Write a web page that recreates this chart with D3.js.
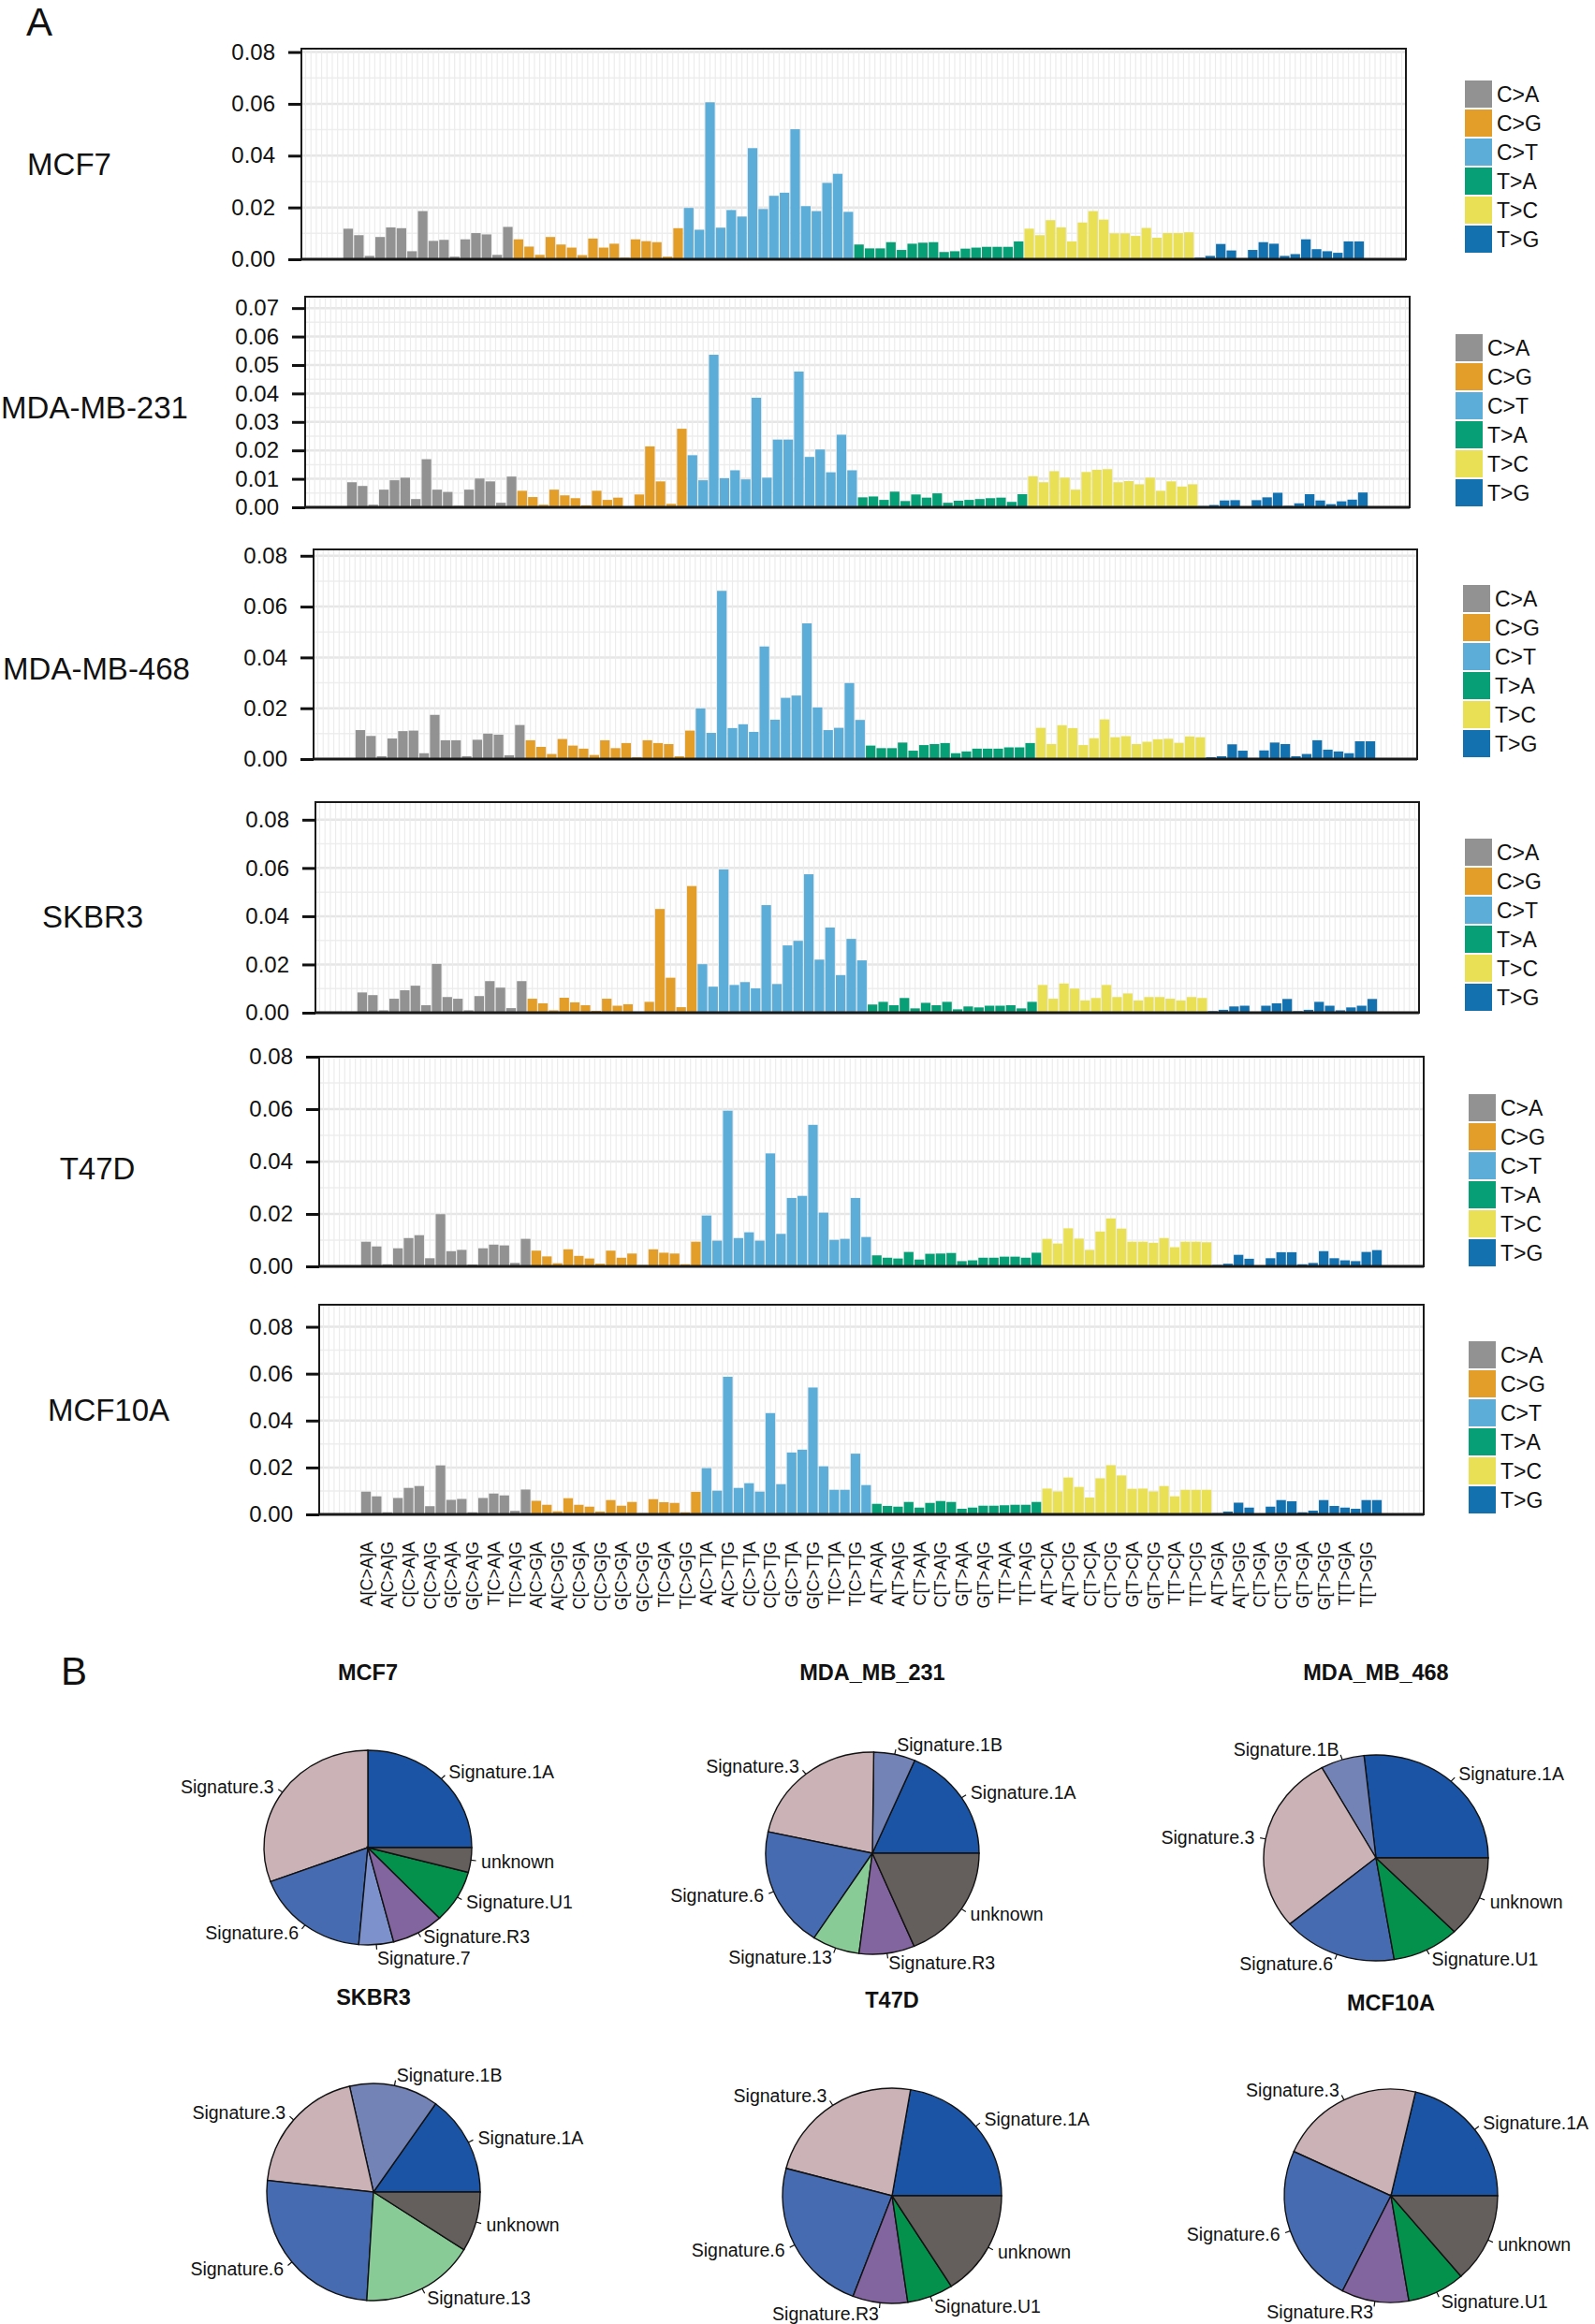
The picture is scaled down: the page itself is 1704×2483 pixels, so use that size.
<!DOCTYPE html>
<html><head><meta charset="utf-8">
<script src="https://cdn.jsdelivr.net/npm/d3@7"></script>
<style>
body{margin:0;background:#fff}
svg{display:block}
text{font-family:"Liberation Sans",Arial,Helvetica,sans-serif;fill:#111}
</style>
</head><body>
<svg id="chart" width="1704" height="2483"></svg>
<script>
// ---------------- DATA ----------------
const categories = [
"A[C>A]A","A[C>A]C","A[C>A]G","A[C>A]T","C[C>A]A","C[C>A]C","C[C>A]G","C[C>A]T","G[C>A]A","G[C>A]C","G[C>A]G","G[C>A]T","T[C>A]A","T[C>A]C","T[C>A]G","T[C>A]T",
"A[C>G]A","A[C>G]C","A[C>G]G","A[C>G]T","C[C>G]A","C[C>G]C","C[C>G]G","C[C>G]T","G[C>G]A","G[C>G]C","G[C>G]G","G[C>G]T","T[C>G]A","T[C>G]C","T[C>G]G","T[C>G]T",
"A[C>T]A","A[C>T]C","A[C>T]G","A[C>T]T","C[C>T]A","C[C>T]C","C[C>T]G","C[C>T]T","G[C>T]A","G[C>T]C","G[C>T]G","G[C>T]T","T[C>T]A","T[C>T]C","T[C>T]G","T[C>T]T",
"A[T>A]A","A[T>A]C","A[T>A]G","A[T>A]T","C[T>A]A","C[T>A]C","C[T>A]G","C[T>A]T","G[T>A]A","G[T>A]C","G[T>A]G","G[T>A]T","T[T>A]A","T[T>A]C","T[T>A]G","T[T>A]T",
"A[T>C]A","A[T>C]C","A[T>C]G","A[T>C]T","C[T>C]A","C[T>C]C","C[T>C]G","C[T>C]T","G[T>C]A","G[T>C]C","G[T>C]G","G[T>C]T","T[T>C]A","T[T>C]C","T[T>C]G","T[T>C]T",
"A[T>G]A","A[T>G]C","A[T>G]G","A[T>G]T","C[T>G]A","C[T>G]C","C[T>G]G","C[T>G]T","G[T>G]A","G[T>G]C","G[T>G]G","G[T>G]T","T[T>G]A","T[T>G]C","T[T>G]G","T[T>G]T"];
const mutationTypes = ["C>A","C>G","C>T","T>A","T>C","T>G"];
const samples = ["MCF7","MDA-MB-231","MDA-MB-468","SKBR3","T47D","MCF10A"];

const valMCF7 = [
0.0118,0.0093,0.0013,0.0086,0.0123,0.0120,0.0031,0.0186,0.0071,0.0075,0.0010,0.0077,0.0101,0.0096,0.0017,0.0125,
0.0077,0.0049,0.0017,0.0086,0.0057,0.0045,0.0016,0.0080,0.0045,0.0060,0.0006,0.0077,0.0070,0.0066,0.0010,0.0120,
0.0198,0.0114,0.0606,0.0122,0.0190,0.0165,0.0429,0.0194,0.0245,0.0257,0.0502,0.0205,0.0186,0.0295,0.0330,0.0183,
0.0057,0.0042,0.0042,0.0066,0.0036,0.0060,0.0064,0.0066,0.0028,0.0031,0.0041,0.0045,0.0048,0.0048,0.0048,0.0069,
0.0118,0.0093,0.0151,0.0123,0.0069,0.0142,0.0186,0.0153,0.0100,0.0100,0.0090,0.0121,0.0083,0.0101,0.0101,0.0104,
0.0006,0.0013,0.0059,0.0034,0.0004,0.0036,0.0066,0.0060,0.0013,0.0020,0.0077,0.0039,0.0031,0.0025,0.0069,0.0069];
const valMDA231 = [
0.0088,0.0075,0.0009,0.0062,0.0095,0.0104,0.0029,0.0169,0.0062,0.0054,0.0005,0.0062,0.0101,0.0091,0.0016,0.0108,
0.0058,0.0036,0.0009,0.0062,0.0042,0.0032,0.0007,0.0058,0.0026,0.0034,0.0002,0.0045,0.0214,0.0091,0.0012,0.0276,
0.0183,0.0095,0.0536,0.0102,0.0130,0.0098,0.0385,0.0104,0.0238,0.0238,0.0477,0.0177,0.0203,0.0123,0.0255,0.0130,
0.0035,0.0038,0.0026,0.0055,0.0022,0.0045,0.0034,0.0049,0.0016,0.0023,0.0026,0.0029,0.0032,0.0034,0.0019,0.0046,
0.0109,0.0088,0.0127,0.0104,0.0062,0.0124,0.0132,0.0134,0.0088,0.0092,0.0081,0.0104,0.0058,0.0091,0.0073,0.0081,
0.0004,0.0008,0.0024,0.0025,0.0001,0.0025,0.0035,0.0051,0.0005,0.0014,0.0046,0.0024,0.0011,0.0021,0.0027,0.0052];
const valMDA468 = [
0.0114,0.0091,0.0011,0.0081,0.0110,0.0112,0.0023,0.0174,0.0074,0.0074,0.0011,0.0076,0.0100,0.0096,0.0015,0.0134,
0.0074,0.0048,0.0020,0.0079,0.0053,0.0041,0.0016,0.0074,0.0043,0.0063,0.0007,0.0074,0.0063,0.0059,0.0011,0.0112,
0.0199,0.0103,0.0662,0.0122,0.0137,0.0107,0.0443,0.0155,0.0241,0.0250,0.0534,0.0203,0.0114,0.0123,0.0299,0.0154,
0.0053,0.0043,0.0043,0.0065,0.0033,0.0055,0.0059,0.0063,0.0023,0.0030,0.0041,0.0041,0.0041,0.0046,0.0046,0.0063,
0.0123,0.0059,0.0133,0.0122,0.0055,0.0082,0.0156,0.0086,0.0090,0.0059,0.0068,0.0078,0.0080,0.0064,0.0089,0.0086,
0.0007,0.0011,0.0058,0.0033,0.0004,0.0034,0.0065,0.0059,0.0011,0.0020,0.0074,0.0037,0.0030,0.0023,0.0070,0.0070];
const valSKBR3 = [
0.0084,0.0073,0.0010,0.0058,0.0093,0.0112,0.0031,0.0202,0.0065,0.0058,0.0010,0.0069,0.0131,0.0104,0.0019,0.0131,
0.0058,0.0039,0.0010,0.0062,0.0043,0.0031,0.0008,0.0058,0.0029,0.0035,0.0003,0.0045,0.0430,0.0145,0.0023,0.0525,
0.0201,0.0108,0.0594,0.0115,0.0127,0.0101,0.0446,0.0119,0.0279,0.0298,0.0574,0.0220,0.0353,0.0156,0.0306,0.0217,
0.0034,0.0045,0.0031,0.0061,0.0018,0.0041,0.0031,0.0045,0.0014,0.0026,0.0022,0.0029,0.0029,0.0031,0.0018,0.0045,
0.0115,0.0058,0.0121,0.0100,0.0051,0.0061,0.0115,0.0065,0.0080,0.0051,0.0065,0.0065,0.0058,0.0051,0.0065,0.0061,
0.0006,0.0012,0.0026,0.0029,0.0001,0.0029,0.0039,0.0057,0.0006,0.0012,0.0045,0.0029,0.0010,0.0022,0.0029,0.0057];
const valT47D = [
0.0094,0.0076,0.0008,0.0069,0.0108,0.0119,0.0031,0.0199,0.0058,0.0063,0.0007,0.0069,0.0083,0.0080,0.0013,0.0105,
0.0060,0.0038,0.0012,0.0065,0.0040,0.0030,0.0010,0.0060,0.0033,0.0049,0.0005,0.0065,0.0052,0.0049,0.0008,0.0094,
0.0194,0.0098,0.0594,0.0108,0.0130,0.0098,0.0431,0.0124,0.0261,0.0269,0.0540,0.0205,0.0101,0.0105,0.0261,0.0112,
0.0042,0.0033,0.0030,0.0055,0.0026,0.0048,0.0049,0.0051,0.0020,0.0023,0.0033,0.0033,0.0037,0.0037,0.0033,0.0052,
0.0105,0.0087,0.0145,0.0106,0.0063,0.0133,0.0183,0.0144,0.0094,0.0094,0.0090,0.0108,0.0073,0.0094,0.0094,0.0092,
0.0005,0.0010,0.0044,0.0029,0.0002,0.0031,0.0054,0.0054,0.0008,0.0013,0.0058,0.0031,0.0023,0.0020,0.0055,0.0062];
const valMCF10A = [
0.0097,0.0077,0.0009,0.0070,0.0113,0.0121,0.0035,0.0209,0.0062,0.0066,0.0009,0.0070,0.0089,0.0081,0.0015,0.0106,
0.0058,0.0041,0.0013,0.0069,0.0041,0.0033,0.0012,0.0061,0.0037,0.0053,0.0005,0.0065,0.0052,0.0049,0.0009,0.0096,
0.0197,0.0101,0.0587,0.0113,0.0133,0.0097,0.0432,0.0129,0.0264,0.0276,0.0541,0.0205,0.0105,0.0105,0.0259,0.0125,
0.0045,0.0036,0.0033,0.0053,0.0029,0.0049,0.0057,0.0053,0.0024,0.0029,0.0037,0.0037,0.0039,0.0041,0.0041,0.0053,
0.0110,0.0098,0.0157,0.0117,0.0072,0.0154,0.0210,0.0166,0.0109,0.0110,0.0098,0.0121,0.0077,0.0105,0.0105,0.0105,
0.0005,0.0012,0.0050,0.0029,0.0003,0.0033,0.0061,0.0056,0.0009,0.0016,0.0061,0.0036,0.0029,0.0024,0.0061,0.0061];

const yMaxes = [0.0813, 0.0740, 0.0825, 0.0873, 0.0800, 0.0894];
const yTicks8 = [0, 0.02, 0.04, 0.06, 0.08];
const yTicks7 = [0, 0.01, 0.02, 0.03, 0.04, 0.05, 0.06, 0.07];

// pie data (percent, counterclockwise from 3 o'clock)
const pieTitles = ["MCF7","MDA_MB_231","MDA_MB_468","SKBR3","T47D","MCF10A"];
const pieMCF7Sigs   = ["Signature.1A","Signature.3","Signature.6","Signature.7","Signature.R3","Signature.U1","unknown"];
const pieMCF7Vals   = [25.0, 30.7, 17.9, 5.4, 8.1, 8.8, 4.1];
const pieMDA231Sigs = ["Signature.1A","Signature.1B","Signature.3","Signature.6","Signature.13","Signature.R3","unknown"];
const pieMDA231Vals = [18.5, 6.3, 21.8, 19.2, 7.2, 8.4, 18.6];
const pieMDA468Sigs = ["Signature.1A","Signature.1B","Signature.3","Signature.6","Signature.U1","unknown"];
const pieMDA468Vals = [26.7, 6.3, 28.1, 16.5, 9.7, 12.7];
const pieSKBR3Sigs  = ["Signature.1A","Signature.1B","Signature.3","Signature.6","Signature.13","unknown"];
const pieSKBR3Vals  = [15.1, 13.5, 19.7, 25.7, 17.1, 8.9];
const pieT47DSigs   = ["Signature.1A","Signature.3","Signature.6","Signature.R3","Signature.U1","unknown"];
const pieT47DVals   = [22.3, 23.6, 23.3, 8.1, 6.8, 15.9];
const pieMCF10ASigs = ["Signature.1A","Signature.3","Signature.6","Signature.R3","Signature.U1","unknown"];
const pieMCF10AVals = [21.3, 21.9, 24.3, 10.2, 8.7, 13.6];

// ---------------- STYLE / LAYOUT ----------------
const mutColors = ["#929292","#e39e2a","#5cadd8","#07a076","#e9e055","#1371b0"];
const sigColors = {
  "Signature.1A":"#1b54a4","Signature.1B":"#7483b6","Signature.3":"#cab2b6","Signature.6":"#466bb0",
  "Signature.7":"#7d92cd","Signature.13":"#88cb97","Signature.R3":"#82649e","Signature.U1":"#03914b","unknown":"#645e5d"
};
const panelVals = [valMCF7, valMDA231, valMDA468, valSKBR3, valT47D, valMCF10A];
const panelTicks = [yTicks8, yTicks7, yTicks8, yTicks8, yTicks8, yTicks8];
const panelLayout = [
  {l:322, r:1502, t:52,   b:277,  lx:74,  ly:175,  gx:1565, gy:86},
  {l:326, r:1506, t:317,  b:542,  lx:101, ly:435,  gx:1555, gy:357},
  {l:335, r:1514, t:587,  b:811,  lx:103, ly:714,  gx:1563, gy:625},
  {l:337, r:1516, t:857,  b:1082, lx:99,  ly:979,  gx:1565, gy:896},
  {l:341, r:1521, t:1129, b:1353, lx:104, ly:1248, gx:1569, gy:1169},
  {l:341, r:1521, t:1394, b:1618, lx:116, ly:1506, gx:1569, gy:1433}
];
const pieLayout = [
  {cx:393, cy:1974, rx:111, ry:104, ty:1795},
  {cx:932, cy:1980, rx:114, ry:108, ty:1795},
  {cx:1470, cy:1985, rx:120, ry:110, ty:1795},
  {cx:399, cy:2342, rx:114, ry:116, ty:2142},
  {cx:953, cy:2346, rx:117, ry:115, ty:2145},
  {cx:1486, cy:2346, rx:114, ry:114, ty:2148}
];

const svg = d3.select("#chart");

svg.append("text").attr("x",28).attr("y",38).attr("font-size",42).text("A");
svg.append("text").attr("x",65).attr("y",1800).attr("font-size",42).text("B");

panelVals.forEach((vals, i) => {
  const L = panelLayout[i];
  const g = svg.append("g");
  const W = L.r - L.l;
  const step = W / 103.8;
  const x = d3.scaleBand().domain(categories)
    .range([L.l + 3.9*step, L.r - 3.9*step]).paddingInner(0.1).paddingOuter(0.05);
  const y = d3.scaleLinear().domain([0, yMaxes[i]]).range([L.b, L.t]);
  const ticks = panelTicks[i];
  const dt = ticks[1]-ticks[0];

  // background grid
  const minor = ticks.map(t => t + dt/2).filter(t => t < yMaxes[i]);
  g.selectAll(".hmin").data(minor).join("line")
    .attr("x1",L.l).attr("x2",L.r).attr("y1",d=>y(d)).attr("y2",d=>y(d))
    .attr("stroke","#eeeeee").attr("stroke-width",1.5);
  g.selectAll(".hmaj").data(ticks).join("line")
    .attr("x1",L.l).attr("x2",L.r).attr("y1",d=>y(d)).attr("y2",d=>y(d))
    .attr("stroke","#e6e6e6").attr("stroke-width",2.5);
  const st = x.step();
  const x0 = x(categories[0]) + x.bandwidth()/2;
  const vLines = d3.range(-8, 200).map(k => x0 + k*st/2).filter(v => v > L.l+1 && v < L.r-1);
  g.selectAll(".vg").data(vLines).join("line")
    .attr("x1",d=>d).attr("x2",d=>d).attr("y1",L.t).attr("y2",L.b)
    .attr("stroke","#ececec").attr("stroke-width",1.2);

  // bars
  g.selectAll(".bar").data(vals).join("rect")
    .attr("x",(d,k)=>x(categories[k]))
    .attr("width",x.bandwidth())
    .attr("y",d=>y(d))
    .attr("height",d=>L.b - y(d))
    .attr("fill",(d,k)=>mutColors[Math.floor(k/16)]);

  // frame
  g.append("rect").attr("x",L.l).attr("y",L.t).attr("width",W).attr("height",L.b-L.t)
    .attr("fill","none").attr("stroke","#1a1a1a").attr("stroke-width",2);
  g.append("line").attr("x1",L.l).attr("x2",L.r).attr("y1",L.b).attr("y2",L.b)
    .attr("stroke","#1a1a1a").attr("stroke-width",3);

  // y axis
  const ax = g.append("g").attr("transform",`translate(${L.l},0)`)
    .call(d3.axisLeft(y).tickValues(ticks).tickFormat(d3.format(".2f")).tickSize(14).tickPadding(14));
  ax.select(".domain").remove();
  ax.selectAll(".tick line").attr("stroke","#111").attr("stroke-width",3);
  ax.selectAll(".tick text").attr("font-size",24).attr("font-family","Liberation Sans, Arial, sans-serif").attr("fill","#111");

  // sample label
  g.append("text").attr("x",L.lx).attr("y",L.ly+12).attr("text-anchor","middle")
    .attr("font-size",33).text(samples[i]);

  // legend
  const lg = g.append("g").attr("transform",`translate(${L.gx},${L.gy})`);
  mutationTypes.forEach((m, j) => {
    lg.append("rect").attr("x",0).attr("y",j*31).attr("width",29).attr("height",29).attr("fill",mutColors[j]);
    lg.append("text").attr("x",34).attr("y",j*31+14.5).attr("dy","0.36em").attr("font-size",23).text(m);
  });

  // x labels on last panel
  if (i === panelVals.length - 1) {
    const labs = categories.filter((c,k)=>k%2===0);
    g.selectAll(".xl").data(labs).join("text")
      .attr("transform", d => `translate(${x(d)+x.bandwidth()/2},1647) rotate(-90)`)
      .attr("text-anchor","end").attr("dy","0.36em").attr("font-size",18).text(d=>d);
  }
});

// ---------------- PIES ----------------
const pieSigSets = [pieMCF7Sigs, pieMDA231Sigs, pieMDA468Sigs, pieSKBR3Sigs, pieT47DSigs, pieMCF10ASigs];
const pieValSets = [pieMCF7Vals, pieMDA231Vals, pieMDA468Vals, pieSKBR3Vals, pieT47DVals, pieMCF10AVals];
const pieGen = d3.pie().sort(null).startAngle(Math.PI/2).endAngle(Math.PI/2 - 2*Math.PI);
const arc100 = d3.arc().innerRadius(0).outerRadius(100);

pieValSets.forEach((vals, i) => {
  const P = pieLayout[i];
  const sigs = pieSigSets[i];
  const arcs = pieGen(vals);
  const g = svg.append("g");
  g.append("text").attr("x",P.cx).attr("y",P.ty).attr("text-anchor","middle")
    .attr("font-size",23.5).attr("font-weight","bold").text(pieTitles[i]);
  const pg = g.append("g").attr("transform",`translate(${P.cx},${P.cy}) scale(${P.rx/100},${P.ry/100})`);
  pg.selectAll("path").data(arcs).join("path")
    .attr("d",arc100)
    .attr("fill",(d,k)=>sigColors[sigs[k]])
    .attr("stroke","#111").attr("stroke-width",1.4).attr("vector-effect","non-scaling-stroke");
  const labels = [];
  arcs.forEach((a, k) => {
    const mid = (a.startAngle + a.endAngle)/2;         // d3 angle (clockwise from 12)
    const th = Math.PI/2 - mid;                          // math angle ccw from 3 o'clock
    const c = Math.cos(th), s = Math.sin(th);
    g.append("line")
      .attr("x1",P.cx + P.rx*c).attr("y1",P.cy - P.ry*s)
      .attr("x2",P.cx + 1.05*P.rx*c).attr("y2",P.cy - 1.05*P.ry*s)
      .attr("stroke","#111").attr("stroke-width",1.2);
    const t = g.append("text")
      .attr("x",P.cx + 1.1*P.rx*c).attr("y",P.cy - 1.1*P.ry*s)
      .attr("dy","0.35em").attr("text-anchor", c >= 0 ? "start" : "end")
      .attr("font-size",19.5).text(sigs[k]);
    labels.push({node:t, y:P.cy - 1.1*P.ry*s});
  });
  // gently separate labels whose boxes collide
  for (let iter = 0; iter < 4; iter++) {
    for (let p = 0; p < labels.length; p++) for (let q = p+1; q < labels.length; q++) {
      const A = labels[p].node.node().getBBox(), B = labels[q].node.node().getBBox();
      const xo = Math.min(A.x+A.width, B.x+B.width) - Math.max(A.x, B.x);
      const yo = Math.min(A.y+A.height, B.y+B.height) - Math.max(A.y, B.y);
      if (xo > 0 && yo > 0) {
        const upper = A.y < B.y ? labels[p] : labels[q];
        const lower = upper === labels[p] ? labels[q] : labels[p];
        upper.y -= yo/2 + 0.5; lower.y += yo/2 + 0.5;
        upper.node.attr("y", upper.y); lower.node.attr("y", lower.y);
      }
    }
  }
});
</script>
</body></html>
